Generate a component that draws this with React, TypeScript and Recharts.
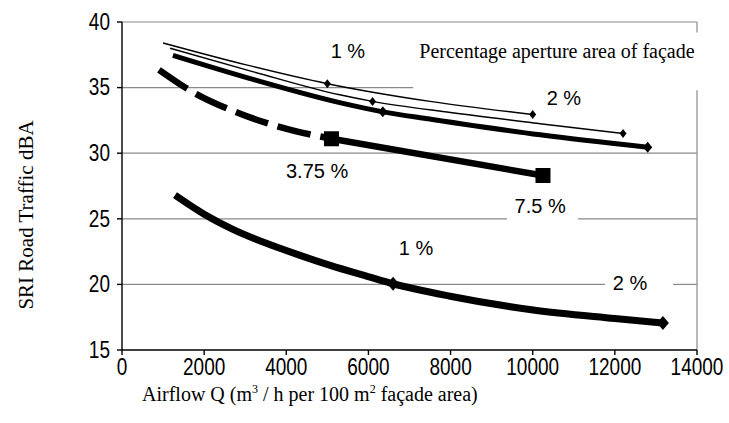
import React from 'react';
import { LineChart, Line, XAxis, YAxis, ReferenceLine, ReferenceDot } from 'recharts';

// ---- data ----
const xTicks = [0, 2000, 4000, 6000, 8000, 10000, 12000, 14000];
const yTicks = [15, 20, 25, 30, 35, 40];

// thin line, upper
const thinUpper = [
  { x: 1000, y: 38.4 }, { x: 3000, y: 36.75 }, { x: 5000, y: 35.3 }, { x: 7500, y: 33.95 }, { x: 10000, y: 32.95 },
];
const thinUpperMarks = [2, 4];

// thin line, lower
const thinLower = [
  { x: 1170, y: 38.0 }, { x: 3200, y: 36.2 }, { x: 5300, y: 34.45 }, { x: 6100, y: 33.95 }, { x: 8000, y: 33.1 },
  { x: 10180, y: 32.25 }, { x: 12200, y: 31.5 },
];
const thinLowerMarks = [3, 6];

// thick line, upper group
const thickUpper = [
  { x: 1240, y: 37.45 }, { x: 3100, y: 35.7 }, { x: 5300, y: 33.85 }, { x: 6350, y: 33.15 }, { x: 7500, y: 32.6 },
  { x: 10180, y: 31.4 }, { x: 12800, y: 30.45 },
];
const thickUpperMarks = [3, 6];

// dashed then solid line with square markers
const dashedPart = [
  { x: 900, y: 36.35 }, { x: 1700, y: 34.7 }, { x: 2800, y: 33.1 }, { x: 3900, y: 31.95 }, { x: 5100, y: 31.1 },
];
const solidPart = [
  { x: 5100, y: 31.1 }, { x: 10250, y: 28.3 },
];
const solidPartMarks = [0, 1];

// bottom curve
const bottomCurve = [
  { x: 1290, y: 26.8 }, { x: 2000, y: 25.35 }, { x: 2700, y: 24.2 }, { x: 3500, y: 23.15 }, { x: 4300, y: 22.25 },
  { x: 5070, y: 21.45 }, { x: 5990, y: 20.6 }, { x: 6600, y: 20.05 }, { x: 7990, y: 19.1 }, { x: 10010, y: 18.05 },
  { x: 12000, y: 17.4 }, { x: 13170, y: 17.05 },
];
const bottomMarks = [7, 11];

// annotation texts
const annotations = [
  { text: '1 %', x: 5500, y: 37.8 },
  { text: '2 %', x: 10760, y: 34.2 },
  { text: '3.75 %', x: 4750, y: 28.65 },
  { text: '7.5 %', x: 10180, y: 25.95 },
  { text: '1 %', x: 7160, y: 22.8 },
  { text: '2 %', x: 12370, y: 20.15 },
];
const legendTitle = { text: 'Percentage aperture area of façade', x: 10590, y: 37.8 };

// visible pieces of gridlines (label boxes hide the rest)
const gridSegments = [
  [{ x: 0, y: 40 }, { x: 14000, y: 40 }],
  [{ x: 0, y: 35 }, { x: 7090, y: 35 }],
  [{ x: 0, y: 30 }, { x: 14000, y: 30 }],
  [{ x: 0, y: 25 }, { x: 9375, y: 25 }],
  [{ x: 11104, y: 25 }, { x: 14000, y: 25 }],
  [{ x: 0, y: 20 }, { x: 11761, y: 20 }],
  [{ x: 13417, y: 20 }, { x: 14000, y: 20 }],
  [{ x: 14000, y: 15 }, { x: 14000, y: 34.8 }],
  [{ x: 14000, y: 39.2 }, { x: 14000, y: 40 }],
];

const SANS = 'Liberation Sans, Arial, sans-serif';
const SERIF = 'Liberation Serif, Times New Roman, serif';

const diamondDot = (h: number, w: number, marks: number[]) => (p: any) => {
  const { cx, cy, index } = p;
  if (!marks.includes(index) || cx == null || cy == null) return <g key={`d${index}`} />;
  return (
    <path
      key={`d${index}`}
      d={`M${cx},${cy - h / 2}L${cx + w / 2},${cy}L${cx},${cy + h / 2}L${cx - w / 2},${cy}Z`}
      fill="#000"
    />
  );
};

const squareDot = (s: number, marks: number[]) => (p: any) => {
  const { cx, cy, index } = p;
  if (!marks.includes(index) || cx == null || cy == null) return <g key={`s${index}`} />;
  return <rect key={`s${index}`} x={cx - s / 2} y={cy - s / 2} width={s} height={s} fill="#000" />;
};

const YTick = (p: any) => {
  const { x, y, payload } = p;
  return (
    <text
      transform={`translate(${x},${y}) scale(1,1.25)`}
      textAnchor="end"
      dominantBaseline="central"
      fontSize={19}
      fontFamily={SANS}
      fill="#000"
    >
      {payload.value}
    </text>
  );
};

const XTick = (p: any) => {
  const { x, y, payload } = p;
  return (
    <text
      transform={`translate(${x},${y + 10}) scale(1,1.25)`}
      textAnchor="middle"
      dominantBaseline="central"
      fontSize={19}
      fontFamily={SANS}
      fill="#000"
    >
      {payload.value}
    </text>
  );
};

export default function App() {
  return (
    <div style={{ position: 'absolute', left: 0, top: 0, width: 729, height: 423, background: '#fff' }}>
      <LineChart
        width={729}
        height={423}
        margin={{ top: 22, right: 32, left: 0, bottom: 0 }}
        style={{ position: 'absolute', left: 0, top: 0 }}
      >
        <XAxis
          dataKey="x"
          type="number"
          domain={[0, 14000]}
          ticks={xTicks}
          interval={0}
          height={73}
          axisLine={{ stroke: '#000', strokeWidth: 1.4 }}
          tickLine={{ stroke: '#000', strokeWidth: 1.4 }}
          tickSize={5}
          tickMargin={2}
          tick={<XTick />}
          allowDataOverflow
        />
        <YAxis
          dataKey="y"
          type="number"
          domain={[15, 40]}
          ticks={yTicks}
          interval={0}
          width={122}
          axisLine={{ stroke: '#000', strokeWidth: 1.4 }}
          tickLine={{ stroke: '#000', strokeWidth: 1.4 }}
          tickSize={5}
          tickMargin={7}
          tick={<YTick />}
          allowDataOverflow
        />
        {gridSegments.map((seg, i) => (
          <ReferenceLine
            key={`g${i}`}
            segment={seg}
            stroke="#8a8a8a"
            strokeWidth={1.2}
            ifOverflow="visible"
            {...({ zIndex: -50 } as any)}
          />
        ))}
        <Line
          data={thinUpper}
          dataKey="y"
          type="monotone"
          stroke="#000"
          strokeWidth={1.5}
          dot={diamondDot(9, 7, thinUpperMarks)}
          activeDot={false}
          isAnimationActive={false}
        />
        <Line
          data={thinLower}
          dataKey="y"
          type="monotone"
          stroke="#000"
          strokeWidth={1.5}
          dot={diamondDot(9, 7, thinLowerMarks)}
          activeDot={false}
          isAnimationActive={false}
        />
        <Line
          data={thickUpper}
          dataKey="y"
          type="monotone"
          stroke="#000"
          strokeWidth={5}
          dot={diamondDot(11, 9, thickUpperMarks)}
          activeDot={false}
          isAnimationActive={false}
        />
        <Line
          data={dashedPart}
          dataKey="y"
          type="monotone"
          stroke="#000"
          strokeWidth={6.5}
          strokeDasharray="34 10"
          dot={false}
          activeDot={false}
          isAnimationActive={false}
        />
        <Line
          data={solidPart}
          dataKey="y"
          type="monotone"
          stroke="#000"
          strokeWidth={6.5}
          dot={squareDot(15, solidPartMarks)}
          activeDot={false}
          isAnimationActive={false}
        />
        <Line
          data={bottomCurve}
          dataKey="y"
          type="monotone"
          stroke="#000"
          strokeWidth={7}
          dot={diamondDot(14, 12, bottomMarks)}
          activeDot={false}
          isAnimationActive={false}
        />
        {annotations.map((a, i) => (
          <ReferenceDot
            key={`a${i}`}
            x={a.x}
            y={a.y}
            r={0}
            fill="none"
            stroke="none"
            label={{ value: a.text, position: 'center', fontSize: 20, fill: '#000', fontFamily: SANS }}
          />
        ))}
        <ReferenceDot
          x={legendTitle.x}
          y={legendTitle.y}
          r={0}
          fill="none"
          stroke="none"
          label={{ value: legendTitle.text, position: 'center', fontSize: 20, fill: '#000', fontFamily: SERIF }}
        />
      </LineChart>
      <svg
        width={729}
        height={423}
        style={{ position: 'absolute', left: 0, top: 0, pointerEvents: 'none' }}
      >
        <text
          transform="translate(26,215) rotate(-90)"
          textAnchor="middle"
          dominantBaseline="central"
          fontSize={21}
          fontFamily={SERIF}
          fill="#000"
        >
          SRI Road Traffic dBA
        </text>
        <text x={142} y={401} fontSize={20} fontFamily={SERIF} fill="#000">
          Airflow Q (m
          <tspan dy={-8} fontSize={12}>3</tspan>
          <tspan dy={8}> / h  per 100 m</tspan>
          <tspan dy={-8} fontSize={12}>2</tspan>
          <tspan dy={8}> façade area)</tspan>
        </text>
      </svg>
    </div>
  );
}
